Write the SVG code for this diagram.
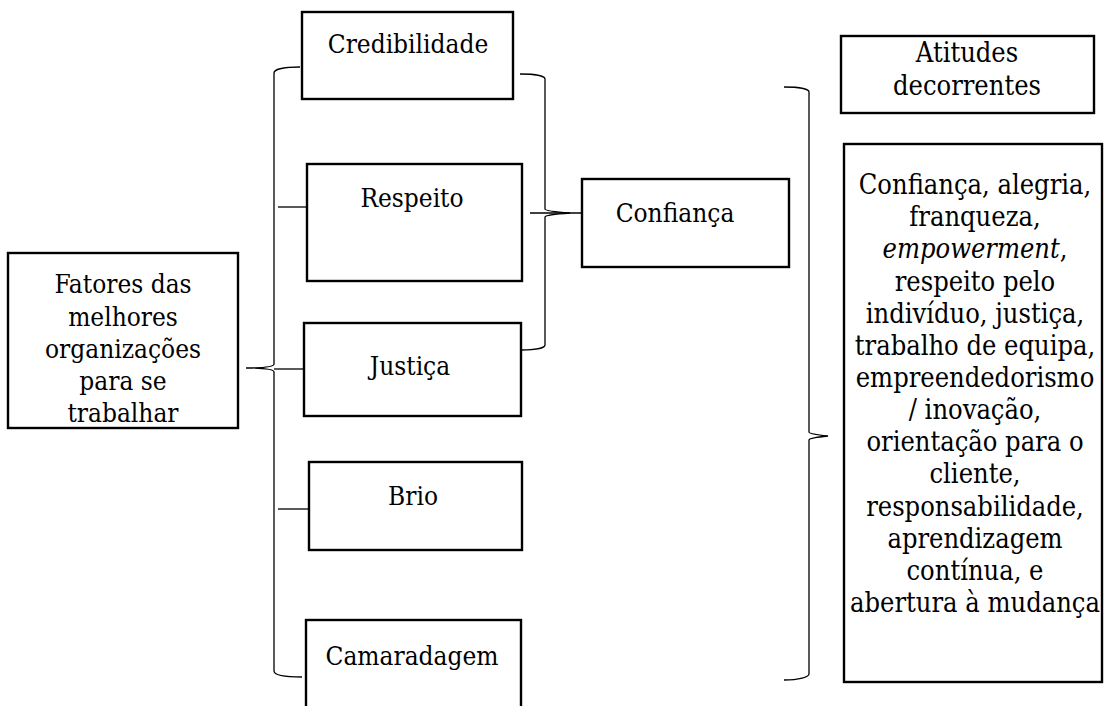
<svg xmlns="http://www.w3.org/2000/svg" width="1107" height="706" viewBox="0 0 1107 706">
  <style>
    .box { fill: #ffffff; stroke: #000000; stroke-width: 2.4; }
    .brace { fill: none; stroke: #000000; stroke-width: 1.3; }
    .lbl { font-family: 'DejaVu Serif', 'Liberation Serif', serif; font-stretch: condensed; font-size: 26px; fill: #000000; text-anchor: middle; }
    .big { font-size: 27px; }
  </style>
  <rect width="1107" height="706" fill="#ffffff"/>

  <!-- braces and connecting ticks -->
  <g id="connectors">
    <path class="brace" d="M300,67 C285,67 274,69 274,73 L274,364 C274,367 262,368 246,368 C262,368 274,369 274,372 L274,671 C274,675 285,677 302,677"/>
    <line class="brace" x1="274" y1="369" x2="304" y2="369"/>
    <line class="brace" x1="278" y1="207" x2="307" y2="207"/>
    <line class="brace" x1="278" y1="509" x2="309" y2="509"/>

    <path class="brace" d="M520,74 C535,74 545,76 545,79 L545,209 C545,211 556,212 570,213 C556,214 545,215 545,217 L545,345 C545,348 535,350 521,350"/>
    <line class="brace" x1="530" y1="213" x2="582" y2="213"/>

    <path class="brace" d="M784,87 C799,87 809,89 809,92 L809,432 C809,434 818,435 828,436 C818,437 809,438 809,440 L809,674 C809,677 799,680 784,680"/>
  </g>

  <g id="fatores">
    <rect class="box" x="8" y="253" width="230" height="175"/>
    <text class="lbl" x="123" y="293">Fatores das</text>
    <text class="lbl" x="123" y="326">melhores</text>
    <text class="lbl" x="123" y="358">organizações</text>
    <text class="lbl" x="123" y="390">para se</text>
    <text class="lbl" x="123" y="422">trabalhar</text>
  </g>

  <g id="credibilidade">
    <rect class="box" x="302" y="12" width="211" height="87"/>
    <text class="lbl" x="408" y="53">Credibilidade</text>
  </g>

  <g id="respeito">
    <rect class="box" x="307" y="164" width="215" height="117"/>
    <text class="lbl" x="412" y="207">Respeito</text>
  </g>

  <g id="justica">
    <rect class="box" x="304" y="323" width="217" height="93"/>
    <text class="lbl" x="410" y="375">Justiça</text>
  </g>

  <g id="brio">
    <rect class="box" x="309" y="462" width="213" height="88"/>
    <text class="lbl" x="413" y="505">Brio</text>
  </g>

  <g id="camaradagem">
    <rect class="box" x="306" y="620" width="215" height="100"/>
    <text class="lbl" x="412" y="665">Camaradagem</text>
  </g>

  <g id="confianca">
    <rect class="box" x="582" y="179" width="207" height="88"/>
    <text class="lbl" x="675" y="222">Confiança</text>
  </g>

  <g id="atitudes">
    <rect class="box" x="841" y="36" width="253" height="77"/>
    <text class="lbl big" x="967" y="62">Atitudes</text>
    <text class="lbl big" x="967" y="95">decorrentes</text>
  </g>

  <g id="lista-atitudes">
    <rect class="box" x="844" y="144" width="258" height="538"/>
    <text class="lbl big" x="975" y="194">Confiança, alegria,</text>
    <text class="lbl big" x="975" y="226">franqueza,</text>
    <text class="lbl big" x="975" y="258"><tspan font-style="italic">empowerment</tspan>,</text>
    <text class="lbl big" x="975" y="291">respeito pelo</text>
    <text class="lbl big" x="975" y="323">indivíduo, justiça,</text>
    <text class="lbl big" x="975" y="355">trabalho de equipa,</text>
    <text class="lbl big" x="975" y="387">empreendedorismo</text>
    <text class="lbl big" x="975" y="419">/ inovação,</text>
    <text class="lbl big" x="975" y="451">orientação para o</text>
    <text class="lbl big" x="975" y="483">cliente,</text>
    <text class="lbl big" x="975" y="516">responsabilidade,</text>
    <text class="lbl big" x="975" y="548">aprendizagem</text>
    <text class="lbl big" x="975" y="580">contínua, e</text>
    <text class="lbl big" x="975" y="612">abertura à mudança</text>
  </g>
</svg>
